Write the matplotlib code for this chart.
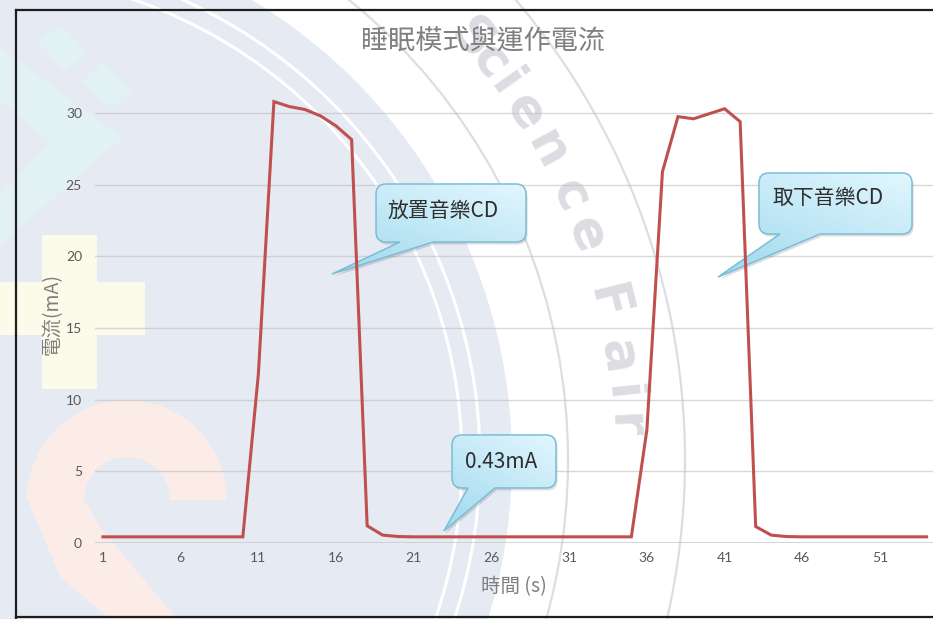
import numpy as np
import matplotlib
matplotlib.use("Agg")
import matplotlib.pyplot as plt
from matplotlib.path import Path
from matplotlib.patches import PathPatch, Circle, Wedge, Polygon, Rectangle
from matplotlib.colors import LinearSegmentedColormap
from matplotlib import transforms

plt.rcParams['font.family'] = ['Noto Sans CJK TC', 'DejaVu Sans']

# measured current (mA), one reading per second
seconds = np.arange(1, 55)
current_ma = [0.43, 0.43, 0.43, 0.43, 0.43, 0.43, 0.43, 0.43, 0.43, 0.43,
              11.8, 30.8, 30.45, 30.25, 29.8, 29.1, 28.15, 1.2, 0.55, 0.45,
              0.43, 0.43, 0.43, 0.43, 0.43, 0.43, 0.43, 0.43, 0.43, 0.43,
              0.43, 0.43, 0.43, 0.43, 0.43, 7.9, 25.9, 29.75, 29.6, 29.95,
              30.3, 29.4, 1.15, 0.55, 0.45, 0.43, 0.43, 0.43, 0.43, 0.43,
              0.43, 0.43, 0.43, 0.43]
x_ticks = [1, 6, 11, 16, 21, 26, 31, 36, 41, 46, 51]
y_ticks = [0, 5, 10, 15, 20, 25, 30]

title = '睡眠模式與運作電流'
x_label = '時間 (s)'
y_label = '電流(mA)'
note_insert = '放置音樂CD'
note_remove = '取下音樂CD'
note_sleep = '0.43mA'

W, H = 933, 619
fig = plt.figure(figsize=(W / 100, H / 100), dpi=100)
fig.patch.set_facecolor('white')

# ---- background seal (pixel coordinates, y downwards) ----
bg = fig.add_axes([0, 0, 1, 1], zorder=0)
bg.set_xlim(0, W)
bg.set_ylim(H, 0)
bg.axis('off')

seal = (-25, 460)
bg.add_patch(Circle(seal, 537, color='#e6eaf3', lw=0))
bg.add_patch(Circle(seal, 487, fill=False, ec='white', lw=2.2))
bg.add_patch(Circle(seal, 505, fill=False, ec='white', lw=2.2))
bg.add_patch(Circle(seal, 593, fill=False, ec='#dcdee6', lw=1.6))
bg.add_patch(Circle(seal, 710, fill=False, ec='#dcdee6', lw=1.6))

cyan = '#e2f2f3'
bg.add_patch(Polygon([(38, 42), (60, 25), (87, 52), (65, 72)], color=cyan, lw=0))
bg.add_patch(Polygon([(82, 82), (103, 62), (132, 90), (112, 108)], color=cyan, lw=0))
bg.add_patch(Polygon([(0, 47), (122, 138), (0, 245), (0, 195), (50, 142), (0, 100)],
                     color=cyan, lw=0))

yellow = '#fcfbe9'
bg.add_patch(Rectangle((42, 235), 55, 154, color=yellow, lw=0))
bg.add_patch(Rectangle((0, 282), 145, 53, color=yellow, lw=0))

pink = '#fbece8'
bg.add_patch(Wedge((127, 500), 100, 180, 360, width=57, color=pink, lw=0))
bg.add_patch(Polygon([(28, 500), (84, 500), (100, 527), (177, 619), (110, 619), (60, 577)],
                     color=pink, lw=0))

letters = 'ScienceFair'
angles = [40.3, 37.7, 35.3, 32.3, 28.4, 24.0, 20.2, 14.0, 9.1, 5.9, 3.0]
for ch, phi in zip(letters, angles):
    a = np.radians(phi)
    bg.text(seal[0] + 650 * np.cos(a), seal[1] - 650 * np.sin(a), ch,
            rotation=phi - 90, rotation_mode='anchor', ha='center', va='center',
            fontsize=37, fontweight='bold', color='#dcdde2', family='DejaVu Sans')

# chart frame
frame = '#1e1e1e'
bg.plot([16, W], [10, 10], color=frame, lw=1.6)
bg.plot([16, 16], [10, H], color=frame, lw=1.6)
bg.plot([16, W], [617, 617], color=frame, lw=1.6)

# ---- main chart ----
ax = fig.add_axes([95.2 / W, 76 / H, (W - 95.2) / W, 458.6 / H], zorder=1)
ax.patch.set_alpha(0)
ax.set_xlim(0.5, 54.41)
ax.set_ylim(0, 32)
for s in ax.spines.values():
    s.set_visible(False)
ax.set_yticks(y_ticks)
ax.set_xticks(x_ticks)
ax.tick_params(length=0, labelcolor='#595959', labelsize=10)
ax.tick_params(axis='y', pad=9.5)
ax.tick_params(axis='x', pad=6.5)
for lbl in ax.get_xticklabels() + ax.get_yticklabels():
    lbl.set_fontfamily('Lato')
ax.grid(axis='y', color='#bfbfbf', alpha=0.6, lw=1)
ax.axhline(0, color='#c8cad0', lw=1.8, zorder=2)

ax.plot(seconds, current_ma, color='#c0504d', lw=2.2, zorder=6,
        solid_joinstyle='miter')

blue_cmap = LinearSegmentedColormap.from_list('note', ['#9fd8ee', '#e2f7fe'])


def callout(box, base, tip, text, text_xy, rx=0.64, ry=0.70):
    x0, y0, x1, y1 = box
    verts = [(x0 + rx, y0), (base[0], y0), tip, (base[1], y0), (x1 - rx, y0),
             (x1, y0), (x1, y0 + ry), (x1, y1 - ry), (x1, y1), (x1 - rx, y1),
             (x0 + rx, y1), (x0, y1), (x0, y1 - ry), (x0, y0 + ry), (x0, y0),
             (x0 + rx, y0), (x0 + rx, y0)]
    codes = [Path.MOVETO, Path.LINETO, Path.LINETO, Path.LINETO, Path.LINETO,
             Path.CURVE3, Path.CURVE3, Path.LINETO, Path.CURVE3, Path.CURVE3,
             Path.LINETO, Path.CURVE3, Path.CURVE3, Path.LINETO, Path.CURVE3,
             Path.CURVE3, Path.CLOSEPOLY]
    path = Path(verts, codes)
    shadow = transforms.offset_copy(ax.transData, fig=fig, x=1.2, y=-1.8, units='points')
    ax.add_patch(PathPatch(path, transform=shadow, fc='black', ec='none',
                           alpha=0.13, zorder=3))
    patch = PathPatch(path, fc='none', ec='#79bed6', lw=1.1, zorder=4.5)
    ax.add_patch(patch)
    yy, xx = np.mgrid[0:1:120j, 0:1:120j]
    grad = 0.6 * yy + 0.4 * xx
    xmin, ymin = min(x0, tip[0]), min(y0, tip[1])
    im = ax.imshow(grad, extent=(xmin, x1, ymin, y1), origin='lower',
                   cmap=blue_cmap, aspect='auto', zorder=4)
    im.set_clip_path(patch)
    ax.text(text_xy[0], text_xy[1], text, ha='left', va='center',
            fontsize=15, color='#2e2e2e', zorder=5)


callout((18.57, 21.0, 28.22, 25.05), (20.11, 22.24), (15.74, 18.77),
        note_insert, (19.34, 23.2))
callout((43.21, 21.56, 53.06, 25.82), (44.56, 47.14), (40.58, 18.56),
        note_remove, (44.11, 24.1))
callout((23.46, 3.84, 30.15, 7.54), (24.49, 26.23), (22.94, 0.84),
        note_sleep, (24.29, 5.65))

ax.set_xlim(0.5, 54.41)
ax.set_ylim(0, 32)

fig.text(483 / W, 1 - 42 / H, title, ha='center', va='center',
         fontsize=19.5, color='#7f7f7f')
fig.text(514 / W, 1 - 587 / H, x_label, ha='center', va='center',
         fontsize=14, color='#7f7f7f')
fig.text(52 / W, 1 - 314 / H, y_label, ha='center', va='center',
         rotation=90, fontsize=14, color='#7f7f7f')

fig.savefig('out.png', dpi=100)
